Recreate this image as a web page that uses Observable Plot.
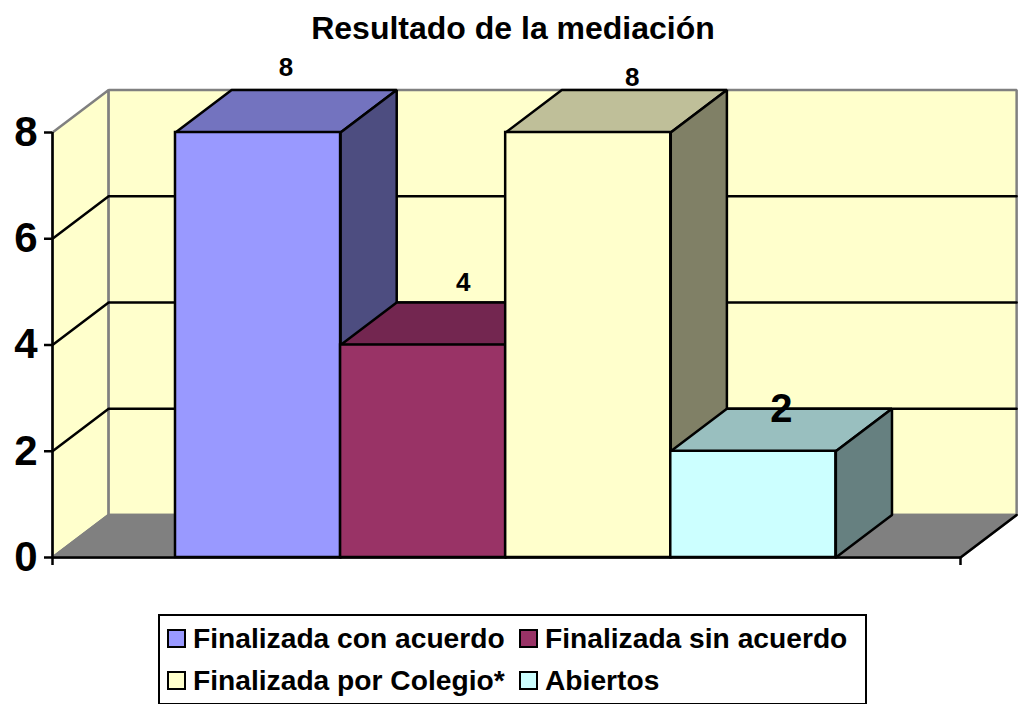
<!DOCTYPE html>
<html lang="es">
<head>
<meta charset="utf-8">
<script src="https://cdn.jsdelivr.net/npm/d3@7"></script>
<script src="https://cdn.jsdelivr.net/npm/@observablehq/plot@0.6"></script>
<style>
  html, body { margin: 0; padding: 0; background: #fff; overflow: hidden; }
  body { width: 1018px; height: 704px; font-family: "Liberation Sans", Arial, sans-serif; color: #000; }
  #title { height: 56px; box-sizing: border-box; padding-top: 10px; padding-left: 8px; text-align: center; font-size: 32px; line-height: 36px; font-weight: bold; }
  #chart { height: 552px; }
  #chart svg { display: block; }
  #legend { position: absolute; left: 158px; top: 614px; width: 709px; height: 90px; box-sizing: border-box; border: 2.5px solid #000; border-bottom-width: 1px; background: #fff; }
  .item { position: absolute; display: flex; align-items: center; height: 30px; font-size: 28.2px; font-weight: bold; white-space: nowrap; }
  .swatch { width: 19px; height: 19px; box-sizing: border-box; border: 2.5px solid #000; margin-right: 7px; flex: none; }
</style>
</head>
<body>
<div id="title"></div>
<div id="chart"></div>
<div id="legend"></div>
<script>
const chartTitle = "Resultado de la mediación";
const categories = ["Finalizada con acuerdo", "Finalizada sin acuerdo", "Finalizada por Colegio*", "Abiertos"];
const values = [8, 4, 8, 2];
const frontColors = ["#9999FF", "#993366", "#FFFFCC", "#CCFFFF"];
const topColors = ["#7373BF", "#732650", "#BFBF99", "#99BFBF"];
const sideColors = ["#4D4D80", "#4D1A33", "#808066", "#668080"];
const yTicks = [0, 2, 4, 6, 8];
const gridValues = [2, 4, 6];

// Chart geometry in scale units: bar width = 1, gap on each side, depth of the 3D box
const gap = 0.745;
const xMax = categories.length + 2 * 0.75;
const depthX = 0.34;
const depthY = 0.8;
const yMax = 8;

const wallColor = "#FFFFCC";
const floorColor = "#808080";
const edgeGrey = "#808080";
const lineWidth = 2.5;

const face = (pts, fill, stroke = "#000", strokeWidth = lineWidth) =>
  Plot.line(pts.map(([x, y]) => ({x, y})), {x: "x", y: "y", fill, stroke, strokeWidth, strokeLinejoin: "miter"});

const back = (x, y) => [x + depthX, y + depthY];

const marks = [];
// Left wall, back wall, floor
marks.push(face([[0, 0], back(0, 0), back(0, yMax), [0, yMax], [0, 0]], wallColor, edgeGrey));
marks.push(face([back(0, 0), back(xMax, 0), back(xMax, yMax), back(0, yMax), back(0, 0)], wallColor, edgeGrey));
marks.push(face([[0, 0], [xMax, 0], back(xMax, 0), back(0, 0), [0, 0]], floorColor, edgeGrey));
// Right edge of floor is black
marks.push(face([[xMax, 0], back(xMax, 0)], "none"));
// Gridlines
for (const g of gridValues) {
  marks.push(face([[0, g], back(0, g), back(xMax, g)], "none"));
}
// Bars, drawn left to right
categories.forEach((c, i) => {
  const x1 = gap + i, x2 = x1 + 1, v = values[i];
  marks.push(face([[x1, v], back(x1, v), back(x2, v), [x2, v], [x1, v]], topColors[i]));
  marks.push(face([[x2, 0], back(x2, 0), back(x2, v), [x2, v], [x2, 0]], sideColors[i]));
  marks.push(Plot.rect([{x1, x2, y1: 0, y2: v}], {x1: "x1", x2: "x2", y1: "y1", y2: "y2", fill: frontColors[i], stroke: "#000", strokeWidth: lineWidth}));
});
// Axes
marks.push(Plot.ruleY([0], {stroke: "#000", strokeWidth: lineWidth}));
marks.push(Plot.ruleX([0], {y1: 0, y2: yMax, stroke: "#000", strokeWidth: lineWidth}));
marks.push(Plot.axisY({ticks: yTicks, tickSize: 8, tickPadding: 7, fontSize: 42, fontWeight: "bold", strokeWidth: lineWidth, label: null, fill: "#000", stroke: "#000", tickFormat: d => d}));
marks.push(Plot.axisX({ticks: [0, xMax], tickSize: 8, tickFormat: () => "", strokeWidth: lineWidth, label: null, stroke: "#000"}));
// Data labels, each with its own offset and size as in the reference
const labelStyles = [
  {dx: 0, dy: -22, fontSize: 26},
  {dx: 12, dy: -20, fontSize: 26},
  {dx: 16, dy: -12, fontSize: 26},
  {dx: 0, dy: 0, fontSize: 40}
];
categories.forEach((c, i) => {
  const d = {x: gap + i + 0.5 + depthX / 2, y: values[i] + depthY, t: String(values[i])};
  marks.push(Plot.text([d], {x: "x", y: "y", text: "t", fontWeight: "bold", fill: "#000", ...labelStyles[i]}));
});

const chart = Plot.plot({
  width: 1018,
  height: 552,
  marginLeft: 52,
  marginRight: 58,
  marginTop: 76,
  marginBottom: 51,
  style: {fontFamily: "'Liberation Sans', Arial, sans-serif", background: "transparent", overflow: "visible"},
  x: {type: "linear", domain: [0, xMax]},
  y: {type: "linear", domain: [0, yMax]},
  marks
});

document.getElementById("title").textContent = chartTitle;
document.getElementById("chart").appendChild(chart);

const legendPositions = [[7, 7], [359, 7], [7, 49], [359, 49]];
const legend = document.getElementById("legend");
categories.forEach((c, i) => {
  const el = document.createElement("div");
  el.className = "item";
  el.style.left = legendPositions[i][0] + "px";
  el.style.top = legendPositions[i][1] + "px";
  const sw = document.createElement("span");
  sw.className = "swatch";
  sw.style.background = frontColors[i];
  el.appendChild(sw);
  el.appendChild(document.createTextNode(c));
  legend.appendChild(el);
});
</script>
</body>
</html>
